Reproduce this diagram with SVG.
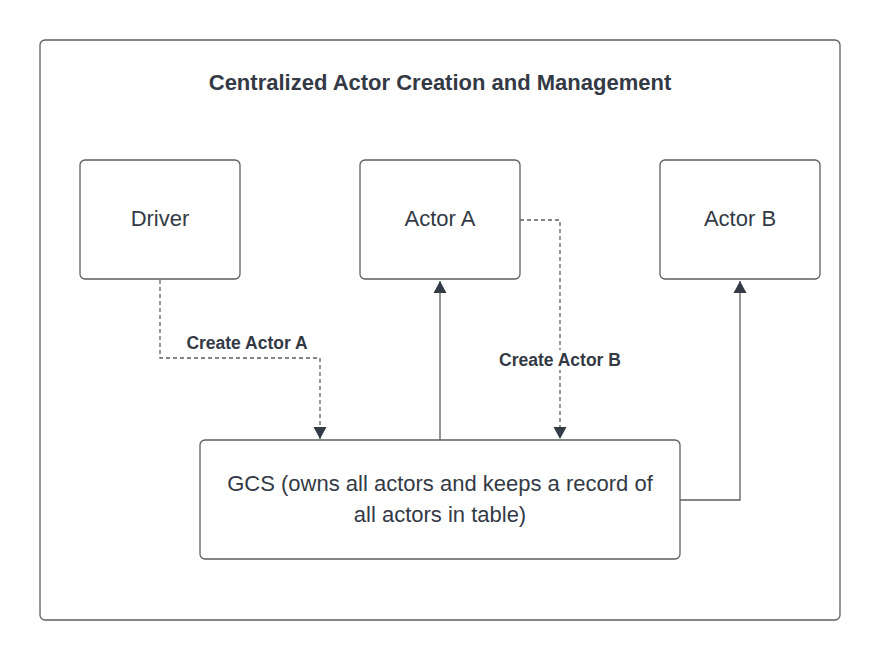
<svg xmlns="http://www.w3.org/2000/svg" width="880" height="660" viewBox="0 0 880 660">
<defs>
<marker id="ah" viewBox="0 0 12 14" refX="12" refY="7" markerWidth="12" markerHeight="14" markerUnits="userSpaceOnUse" orient="auto">
<path d="M0,0.5 L12,7 L0,13.5 Z" fill="#333a45"/>
</marker>
<style>
.box{fill:#fff;stroke:#5e5e5e;stroke-width:1.3}
.t{font-family:"Liberation Sans",Arial,sans-serif;font-size:22px;fill:#333a45;text-anchor:middle}
.lbl{font-family:"Liberation Sans",Arial,sans-serif;font-size:17.5px;font-weight:bold;fill:#333a45;text-anchor:middle}
.c{fill:none;stroke:#5e5e5e;stroke-width:1.3}
.d{stroke-dasharray:4,3}
</style>
</defs>
<rect width="880" height="660" fill="#fff"/>
<g id="frame">
<rect x="40" y="40" width="800" height="580" rx="5" class="box"/>
<text x="440" y="90" class="lbl" style="font-size:22px">Centralized Actor Creation and Management</text>
</g>
<g id="connectors">
<path d="M160,280 V358 H320 V439" class="c d" marker-end="url(#ah)"/>
<path d="M440,440 V281" class="c" marker-end="url(#ah)"/>
<path d="M520,220 H560 V439" class="c d" marker-end="url(#ah)"/>
<path d="M680,500 H740 V281" class="c" marker-end="url(#ah)"/>
<text x="247" y="349" class="lbl">Create Actor A</text>
<rect x="495" y="350" width="130" height="20" fill="#fff"/>
<text x="560" y="366" class="lbl">Create Actor B</text>
</g>
<g id="driver">
<rect x="80" y="160" width="160" height="119" rx="5" class="box"/>
<text x="160" y="226" class="t">Driver</text>
</g>
<g id="actorA">
<rect x="360" y="160" width="160" height="119" rx="5" class="box"/>
<text x="440" y="226" class="t">Actor A</text>
</g>
<g id="actorB">
<rect x="660" y="160" width="160" height="119" rx="5" class="box"/>
<text x="740" y="226" class="t">Actor B</text>
</g>
<g id="gcs">
<rect x="200" y="440" width="480" height="119" rx="5" class="box"/>
<text x="440" y="491" class="t">GCS (owns all actors and keeps a record of</text>
<text x="440" y="522" class="t">all actors in table)</text>
</g>
</svg>
